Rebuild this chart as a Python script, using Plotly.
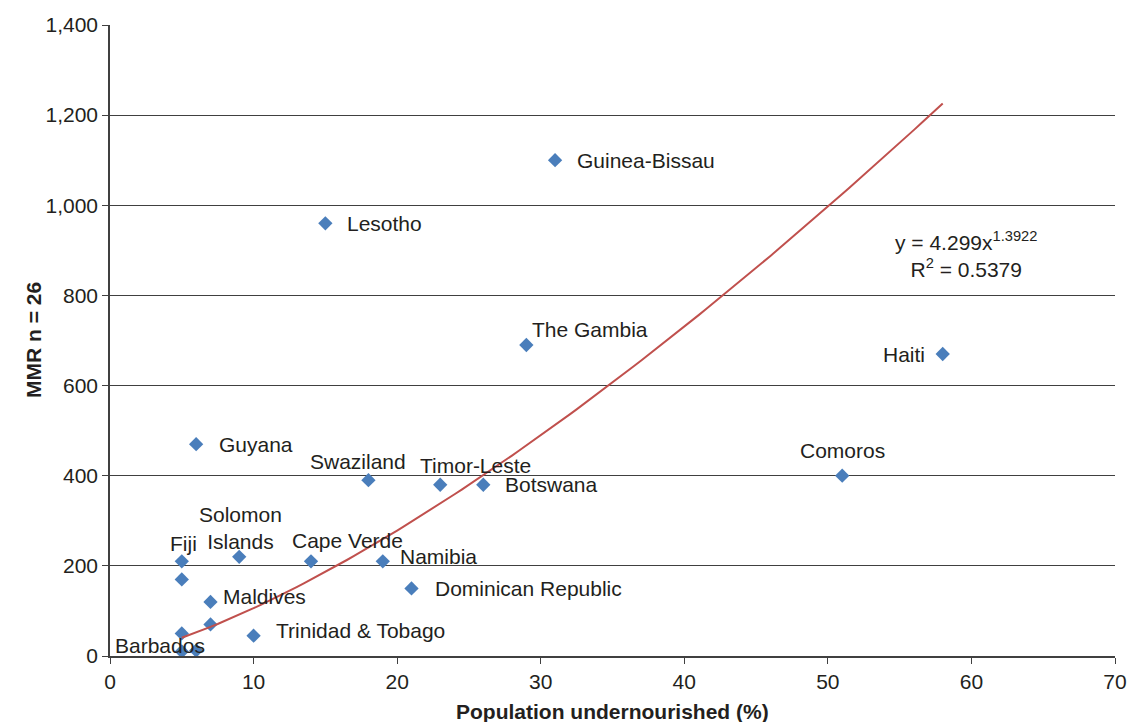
import plotly.graph_objects as go

# Data: population undernourished (%) vs maternal mortality ratio
countries = ["Guinea-Bissau", "Lesotho", "The Gambia", "Haiti", "Comoros", "Guyana",
             "Swaziland", "Timor-Leste", "Botswana", "Solomon<br>Islands", "Cape Verde",
             "Namibia", "Fiji", "", "Dominican Republic", "Maldives", "",
             "Trinidad & Tobago", "", "Barbados", ""]
undernourished = [31, 15, 29, 58, 51, 6, 18, 23, 26, 9, 14, 19, 5, 5, 21, 7, 7, 10, 5, 5, 6]
mmr = [1100, 960, 690, 670, 400, 470, 390, 380, 380, 220, 210, 210, 210, 170, 150, 120, 70, 45, 50, 10, 12]

# Power trendline as displayed on the chart: y = a * x^b
trend_a = 4.299
trend_b = 1.3922
trend_x = [5 + i * 0.5 for i in range(107)]

# label offsets in pixels (xshift, yshift, xanchor)
label_pos = {
    "Guinea-Bissau": (20, 0, "left"),
    "Lesotho": (20, 0, "left"),
    "The Gambia": (4, 16, "left"),
    "Haiti": (-16, 0, "right"),
    "Comoros": (0, 25, "center"),
    "Guyana": (21, 0, "left"),
    "Swaziland": (-10, 19, "center"),
    "Timor-Leste": (35, 19, "center"),
    "Botswana": (20, 0, "left"),
    "Solomon<br>Islands": (1, 29, "center"),
    "Cape Verde": (36, 21, "center"),
    "Namibia": (15, 5, "left"),
    "Fiji": (2, 18, "center"),
    "Dominican Republic": (21, 0, "left"),
    "Maldives": (10, 5, "left"),
    "Trinidad & Tobago": (20, 5, "left"),
    "Barbados": (-22, 6, "center"),
}

FONT = "Liberation Sans, Arial, sans-serif"
TXT = "#231f20"
FS = 21

fig = go.Figure()
fig.add_trace(go.Scatter(
    x=undernourished, y=mmr, mode="markers",
    marker=dict(symbol="diamond", size=11, color="#4a7ebb"),
    hoverinfo="x+y", showlegend=False,
))
fig.add_trace(go.Scatter(
    x=trend_x, y=[trend_a * x ** trend_b for x in trend_x], mode="lines",
    line=dict(color="#c0504d", width=2), showlegend=False, hoverinfo="skip",
))

for name, xv, yv in zip(countries, undernourished, mmr):
    if not name:
        continue
    xs, ys, xa = label_pos[name]
    fig.add_annotation(x=xv, y=yv, xref="x", yref="y", text=name, showarrow=False,
                       xanchor=xa, yanchor="middle", xshift=xs, yshift=ys,
                       font=dict(family=FONT, size=FS, color=TXT), align="center")

fig.add_annotation(x=59.6, y=890, xref="x", yref="y",
                   text="y = 4.299x<sup>1.3922</sup><br>R<sup>2</sup> = 0.5379",
                   showarrow=False, xanchor="center", yanchor="middle", align="center",
                   font=dict(family=FONT, size=FS, color=TXT))

# axis titles
fig.add_annotation(x=0.5, y=0, xref="paper", yref="paper", yanchor="middle", yshift=-55,
                   text="<b>Population undernourished (%)</b>", showarrow=False,
                   font=dict(family=FONT, size=FS, color=TXT))
fig.add_annotation(x=0, y=0.5, xref="paper", yref="paper", xshift=-90,
                   text="<b>MMR n = 26</b>", showarrow=False, textangle=-90,
                   font=dict(family=FONT, size=FS, color=TXT))

fig.update_layout(
    width=1129, height=722,
    margin=dict(l=110, r=14, t=25, b=66),
    paper_bgcolor="white", plot_bgcolor="white",
    font=dict(family=FONT, color=TXT),
)
fig.update_xaxes(
    range=[0, 70], dtick=10, tick0=0, showgrid=False, zeroline=False, automargin=False,
    showline=True, linecolor="#404040", linewidth=1.5, mirror=False,
    ticks="outside", ticklen=6, tickcolor="#404040",
    tickfont=dict(family=FONT, size=FS, color=TXT),
)
fig.update_yaxes(
    range=[0, 1400], dtick=200, tick0=0, tickformat=",d", automargin=False,
    showgrid=True, gridcolor="#404040", gridwidth=1, zeroline=False,
    showline=True, linecolor="#404040", linewidth=1.5,
    ticks="outside", ticklen=6, tickcolor="#404040",
    tickfont=dict(family=FONT, size=FS, color=TXT),
)

fig.write_html(
    "out.html",
    config={"displayModeBar": False},
    post_script="document.body.style.margin='0';document.body.style.overflow='hidden';",
)
